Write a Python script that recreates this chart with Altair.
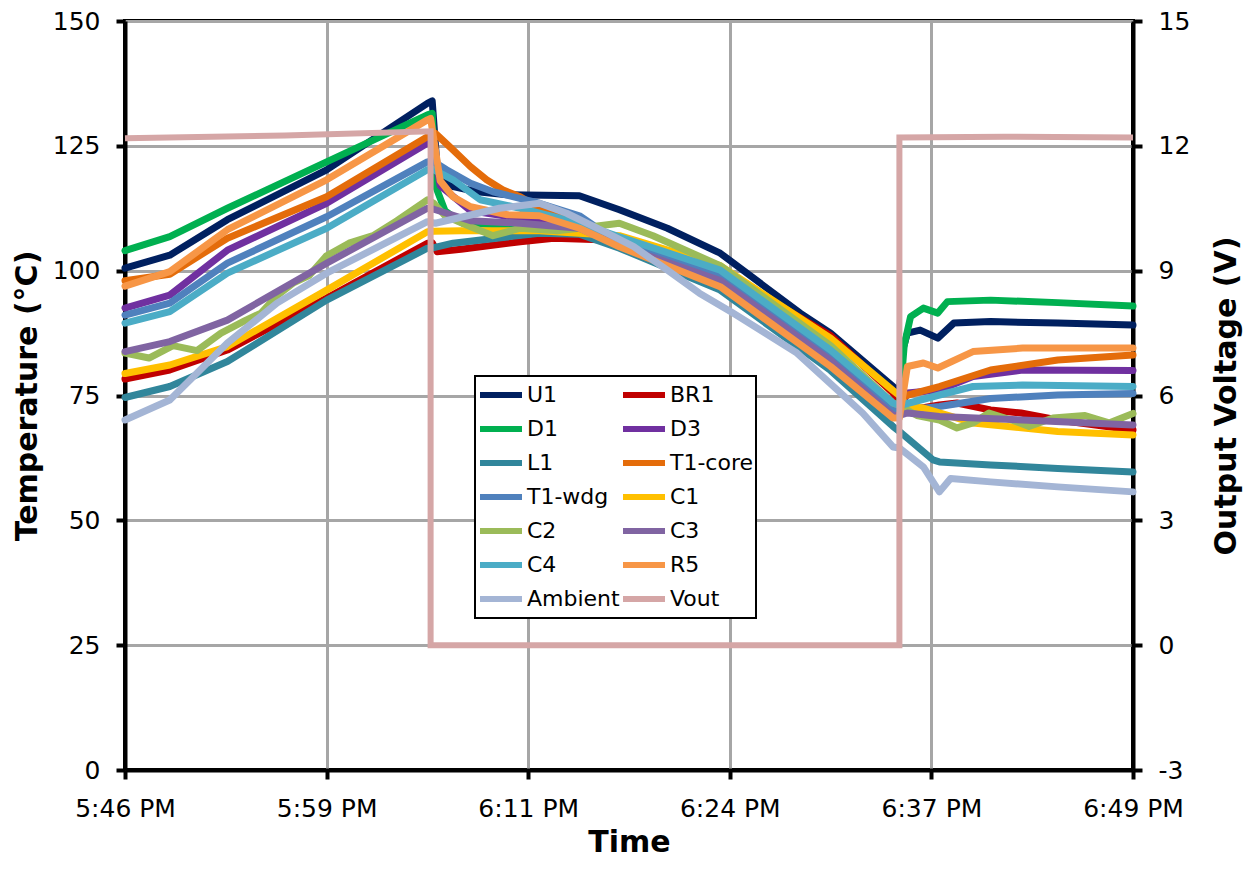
import json
import altair as alt
import pandas as pd

# ---- data (time in minutes after 5:46 PM, temperature in °C) ----
U1_t = [0, 2.8, 6.4, 12.6, 18.9, 19.2, 19.5, 20.3, 22.0, 23.9, 28.4, 30.9, 33.9, 37.2, 42.2, 44.1, 48.0, 48.4, 48.6, 48.9, 49.7, 50.8, 51.8, 54.1, 58.3, 63.0]
U1_v = [100.5, 103.1, 110.2, 120.2, 133.5, 134.0, 121.0, 117.0, 115.8, 115.2, 115.0, 112.2, 108.5, 103.5, 91.5, 87.5, 76.8, 75.5, 84.0, 87.5, 88.1, 86.5, 89.5, 89.8, 89.5, 89.1]

BR1_t = [0, 2.8, 6.4, 12.6, 18.9, 19.2, 19.5, 21.0, 24.7, 26.8, 29.7, 30.9, 37.2, 44.1, 48.0, 48.4, 48.9, 50.9, 52.0, 54.1, 56.0, 58.3, 63.0]
BR1_v = [78.3, 80.1, 84.1, 94.5, 105.5, 105.6, 103.8, 104.3, 105.8, 106.5, 106.2, 105.5, 100.0, 87.0, 75.5, 74.0, 72.0, 73.1, 73.5, 72.1, 71.5, 70.1, 68.1]

D1_t = [0, 2.8, 6.4, 12.6, 18.9, 19.2, 19.4, 20.0, 21.1, 24.7, 28.4, 30.9, 37.2, 44.1, 48.0, 48.4, 48.7, 49.1, 49.9, 50.8, 51.4, 54.1, 58.3, 63.0]
D1_v = [104.0, 106.8, 112.5, 121.8, 131.2, 131.5, 117.0, 112.0, 109.5, 109.0, 108.5, 106.0, 99.5, 84.0, 73.0, 73.0, 85.0, 90.8, 92.5, 91.5, 93.8, 94.1, 93.6, 92.9]

D3_t = [0, 2.8, 6.4, 12.6, 18.9, 19.2, 19.7, 21.6, 24.7, 28.4, 30.9, 37.2, 44.1, 48.0, 48.4, 48.9, 50.9, 53.0, 56.1, 63.0]
D3_v = [92.5, 95.1, 104.1, 113.5, 125.5, 125.7, 117.0, 112.0, 110.5, 109.0, 105.5, 98.5, 82.5, 72.0, 72.0, 75.5, 76.1, 78.8, 80.1, 80.0]

L1_t = [0, 2.8, 6.4, 12.6, 18.9, 19.3, 20.5, 25.9, 28.4, 30.9, 37.2, 44.1, 48.0, 48.4, 50.5, 50.9, 54.1, 58.3, 63.0]
L1_v = [74.6, 76.8, 81.8, 94.1, 104.5, 104.6, 105.5, 107.5, 107.3, 104.5, 96.1, 80.0, 68.8, 67.8, 62.1, 61.7, 61.1, 60.4, 59.7]

T1core_t = [0, 2.8, 6.4, 12.6, 18.9, 19.2, 19.4, 20.5, 21.6, 22.6, 23.6, 24.7, 25.9, 28.4, 30.9, 37.2, 44.1, 48.0, 48.4, 48.6, 50.9, 54.1, 58.3, 63.0]
T1core_v = [98.0, 99.3, 106.5, 114.8, 126.8, 127.5, 127.5, 124.2, 120.8, 118.2, 116.2, 114.8, 112.5, 109.5, 105.0, 97.5, 81.5, 71.0, 71.0, 74.8, 76.8, 80.1, 82.1, 83.1]

T1wdg_t = [0, 2.8, 6.4, 12.6, 18.9, 19.2, 20.1, 21.6, 23.0, 25.9, 28.4, 30.9, 37.2, 44.1, 48.0, 48.4, 48.9, 50.9, 54.1, 58.3, 63.0]
T1wdg_v = [91.1, 93.5, 101.5, 110.8, 121.8, 122.0, 120.2, 117.5, 115.8, 113.5, 111.0, 105.5, 99.0, 83.0, 72.0, 71.5, 72.1, 72.8, 74.4, 75.1, 75.4]

C1_t = [0, 2.8, 6.4, 12.6, 18.9, 19.3, 21.0, 25.9, 28.4, 30.9, 37.2, 44.1, 48.0, 48.4, 48.9, 49.9, 53.0, 58.3, 63.0]
C1_v = [79.4, 81.1, 84.8, 96.1, 107.8, 107.9, 108.0, 108.0, 107.5, 107.0, 101.0, 86.5, 76.0, 75.0, 72.8, 72.5, 69.5, 67.8, 67.1]

C2_t = [0, 1.5, 3.0, 4.5, 6.0, 7.5, 8.5, 9.5, 10.5, 11.5, 12.6, 14.0, 15.5, 17.0, 18.9, 19.3, 20.0, 21.6, 23.0, 24.7, 27.0, 28.4, 30.9, 33.0, 37.2, 44.1, 48.0, 48.4, 49.5, 50.9, 52.0, 53.0, 54.0, 55.5, 56.5, 58.0, 60.0, 61.5, 63.0]
C2_v = [83.5, 82.5, 85.0, 84.0, 87.5, 90.0, 91.5, 95.0, 97.5, 99.0, 103.0, 105.5, 107.0, 110.0, 114.2, 113.5, 111.0, 108.8, 107.0, 108.5, 108.0, 108.5, 109.5, 107.0, 101.0, 85.0, 73.5, 73.0, 71.0, 70.1, 68.5, 69.5, 71.5, 70.0, 68.8, 70.5, 71.0, 69.5, 71.4]

C3_t = [0, 2.8, 6.4, 12.6, 18.9, 19.3, 21.6, 24.7, 28.4, 30.9, 37.2, 44.1, 48.0, 48.4, 48.9, 50.9, 56.1, 63.0]
C3_v = [83.8, 85.8, 90.1, 101.5, 112.5, 112.3, 110.0, 109.5, 108.5, 105.0, 98.0, 82.0, 71.0, 71.0, 71.5, 70.8, 70.1, 69.1]

C4_t = [0, 2.8, 6.4, 12.6, 18.9, 19.2, 20.5, 22.2, 24.7, 25.9, 28.4, 30.9, 37.2, 44.1, 48.0, 48.4, 48.9, 50.9, 53.0, 56.1, 63.0]
C4_v = [89.5, 91.8, 99.5, 108.5, 120.2, 120.4, 118.2, 114.2, 112.5, 111.5, 109.5, 106.8, 100.1, 84.1, 73.5, 73.0, 73.4, 75.1, 76.8, 77.1, 76.8]

R5_t = [0, 2.8, 6.4, 12.6, 18.9, 19.1, 19.7, 20.5, 21.6, 23.9, 25.9, 28.4, 30.9, 37.2, 44.1, 48.0, 48.4, 48.9, 49.9, 50.8, 53.0, 56.1, 63.0]
R5_v = [96.9, 99.8, 108.2, 118.2, 130.2, 130.5, 118.0, 114.8, 112.8, 111.2, 111.0, 108.5, 104.8, 96.8, 80.8, 70.5, 70.5, 80.8, 81.5, 80.5, 83.8, 84.5, 84.5]

Ambient_t = [0, 2.8, 6.4, 9.5, 12.6, 18.9, 19.4, 23.4, 25.9, 27.6, 29.7, 31.8, 33.9, 35.9, 38.0, 42.0, 46.1, 48.0, 48.4, 49.9, 50.9, 51.6, 54.1, 58.3, 63.0]
Ambient_v = [70.1, 74.1, 85.5, 93.5, 99.5, 109.8, 109.5, 112.5, 113.5, 111.5, 108.2, 104.8, 100.1, 95.5, 91.5, 83.5, 71.5, 64.7, 64.5, 60.7, 55.7, 58.4, 57.7, 56.7, 55.7]

# Output voltage (V), right axis
Vout_t = [0, 10.0, 19.1, 19.1, 48.4, 48.4, 55.0, 63.0]
Vout_v = [12.18, 12.25, 12.35, 0.0, 0.0, 12.2, 12.22, 12.2]

# legend is filled column by column: left column first, then right column
legend_order = ["U1", "D1", "L1", "T1-wdg", "C2", "C4", "Ambient",
                "BR1", "D3", "T1-core", "C1", "C3", "R5", "Vout"]
legend_colors = ["#002060", "#00B050", "#31869B", "#4F81BD", "#9BBB59", "#4BACC6", "#A4B5D5",
                 "#C00000", "#7030A0", "#E46C0A", "#FFC000", "#8064A2", "#F79646", "#D5A6A6"]

x_tick_values = [0, 12.6, 25.2, 37.8, 50.4, 63.0]
x_tick_labels = ["5:46 PM", "5:59 PM", "6:11 PM", "6:24 PM", "6:37 PM", "6:49 PM"]
y_left_ticks = [0, 25, 50, 75, 100, 125, 150]
y_right_ticks = [-3, 0, 3, 6, 9, 12, 15]

temp_series = [
    ("U1", U1_t, U1_v), ("BR1", BR1_t, BR1_v), ("D1", D1_t, D1_v), ("D3", D3_t, D3_v),
    ("L1", L1_t, L1_v), ("T1-core", T1core_t, T1core_v), ("T1-wdg", T1wdg_t, T1wdg_v),
    ("C1", C1_t, C1_v), ("C2", C2_t, C2_v), ("C3", C3_t, C3_v), ("C4", C4_t, C4_v),
    ("R5", R5_t, R5_v), ("Ambient", Ambient_t, Ambient_v),
]
rows = []
for name, ts, vs in temp_series:
    for i, (t, v) in enumerate(zip(ts, vs)):
        rows.append({"series": name, "t": t, "temp": v, "i": i})
temp_df = pd.DataFrame(rows)
vout_df = pd.DataFrame({"series": "Vout", "t": Vout_t, "volt": Vout_v, "i": list(range(len(Vout_t)))})

FONT = "DejaVu Sans"
color_scale = alt.Scale(domain=legend_order, range=legend_colors)


def make_legend():
    return alt.Legend(
        title=None, orient="none", legendX=350, legendY=355, columns=2,
        symbolType="stroke", symbolSize=1764, symbolStrokeWidth=6, clipHeight=34,
        labelFont=FONT, labelFontSize=22, labelColor="black", labelLimit=0, labelOffset=2,
        fillColor="white", strokeColor="black", padding=2, rowPadding=0, columnPadding=-2,
    )


label_expr = json.dumps(x_tick_labels) + "[round(datum.value / 12.6)]"
x_enc = alt.X(
    "t:Q",
    scale=alt.Scale(domain=[0, 63], nice=False, zero=False),
    axis=alt.Axis(values=x_tick_values, labelExpr=label_expr, title="Time", grid=True,
                  labelFlush=False, labelOverlap=False, labelPadding=17, titlePadding=6),
)

temps = alt.Chart(temp_df).mark_line(strokeWidth=7, strokeJoin="round", strokeCap="round").encode(
    x=x_enc,
    y=alt.Y("temp:Q", scale=alt.Scale(domain=[0, 150], nice=False),
            axis=alt.Axis(values=y_left_ticks, title="Temperature (°C)", orient="left",
                          grid=True, labelPadding=16, titlePadding=10)),
    color=alt.Color("series:N", scale=color_scale, legend=make_legend()),
    order=alt.Order("i:Q"),
)

vout = alt.Chart(vout_df).mark_line(strokeWidth=6, strokeJoin="miter", strokeCap="butt").encode(
    x=x_enc,
    y=alt.Y("volt:Q", scale=alt.Scale(domain=[-3, 15], nice=False),
            axis=alt.Axis(values=y_right_ticks, title="Output Voltage (V)", orient="right",
                          labelExpr="toString(datum.value)",
                          grid=False, labelPadding=16, titlePadding=52, titleAngle=270)),
    color=alt.Color("series:N", scale=color_scale, legend=make_legend()),
    order=alt.Order("i:Q"),
)

chart = alt.layer(temps, vout).resolve_scale(y="independent").properties(
    width=1008, height=749,
    autosize=alt.AutoSizeParams(type="none"),
    padding={"left": 117, "top": 13, "right": 116, "bottom": 91},
).configure_view(
    stroke="black", strokeWidth=4
).configure_axis(
    domainColor="black", domainWidth=4, tickColor="black", tickWidth=4, tickSize=9,
    labelFont=FONT, labelFontSize=25, labelColor="black",
    titleFont=FONT, titleFontSize=30, titleFontWeight="bold", titleColor="black",
    gridColor="#A6A6A6", gridWidth=3,
).configure_legend(strokeWidth=2)

chart.save("out.html", embed_options={"renderer": "svg", "actions": False})
